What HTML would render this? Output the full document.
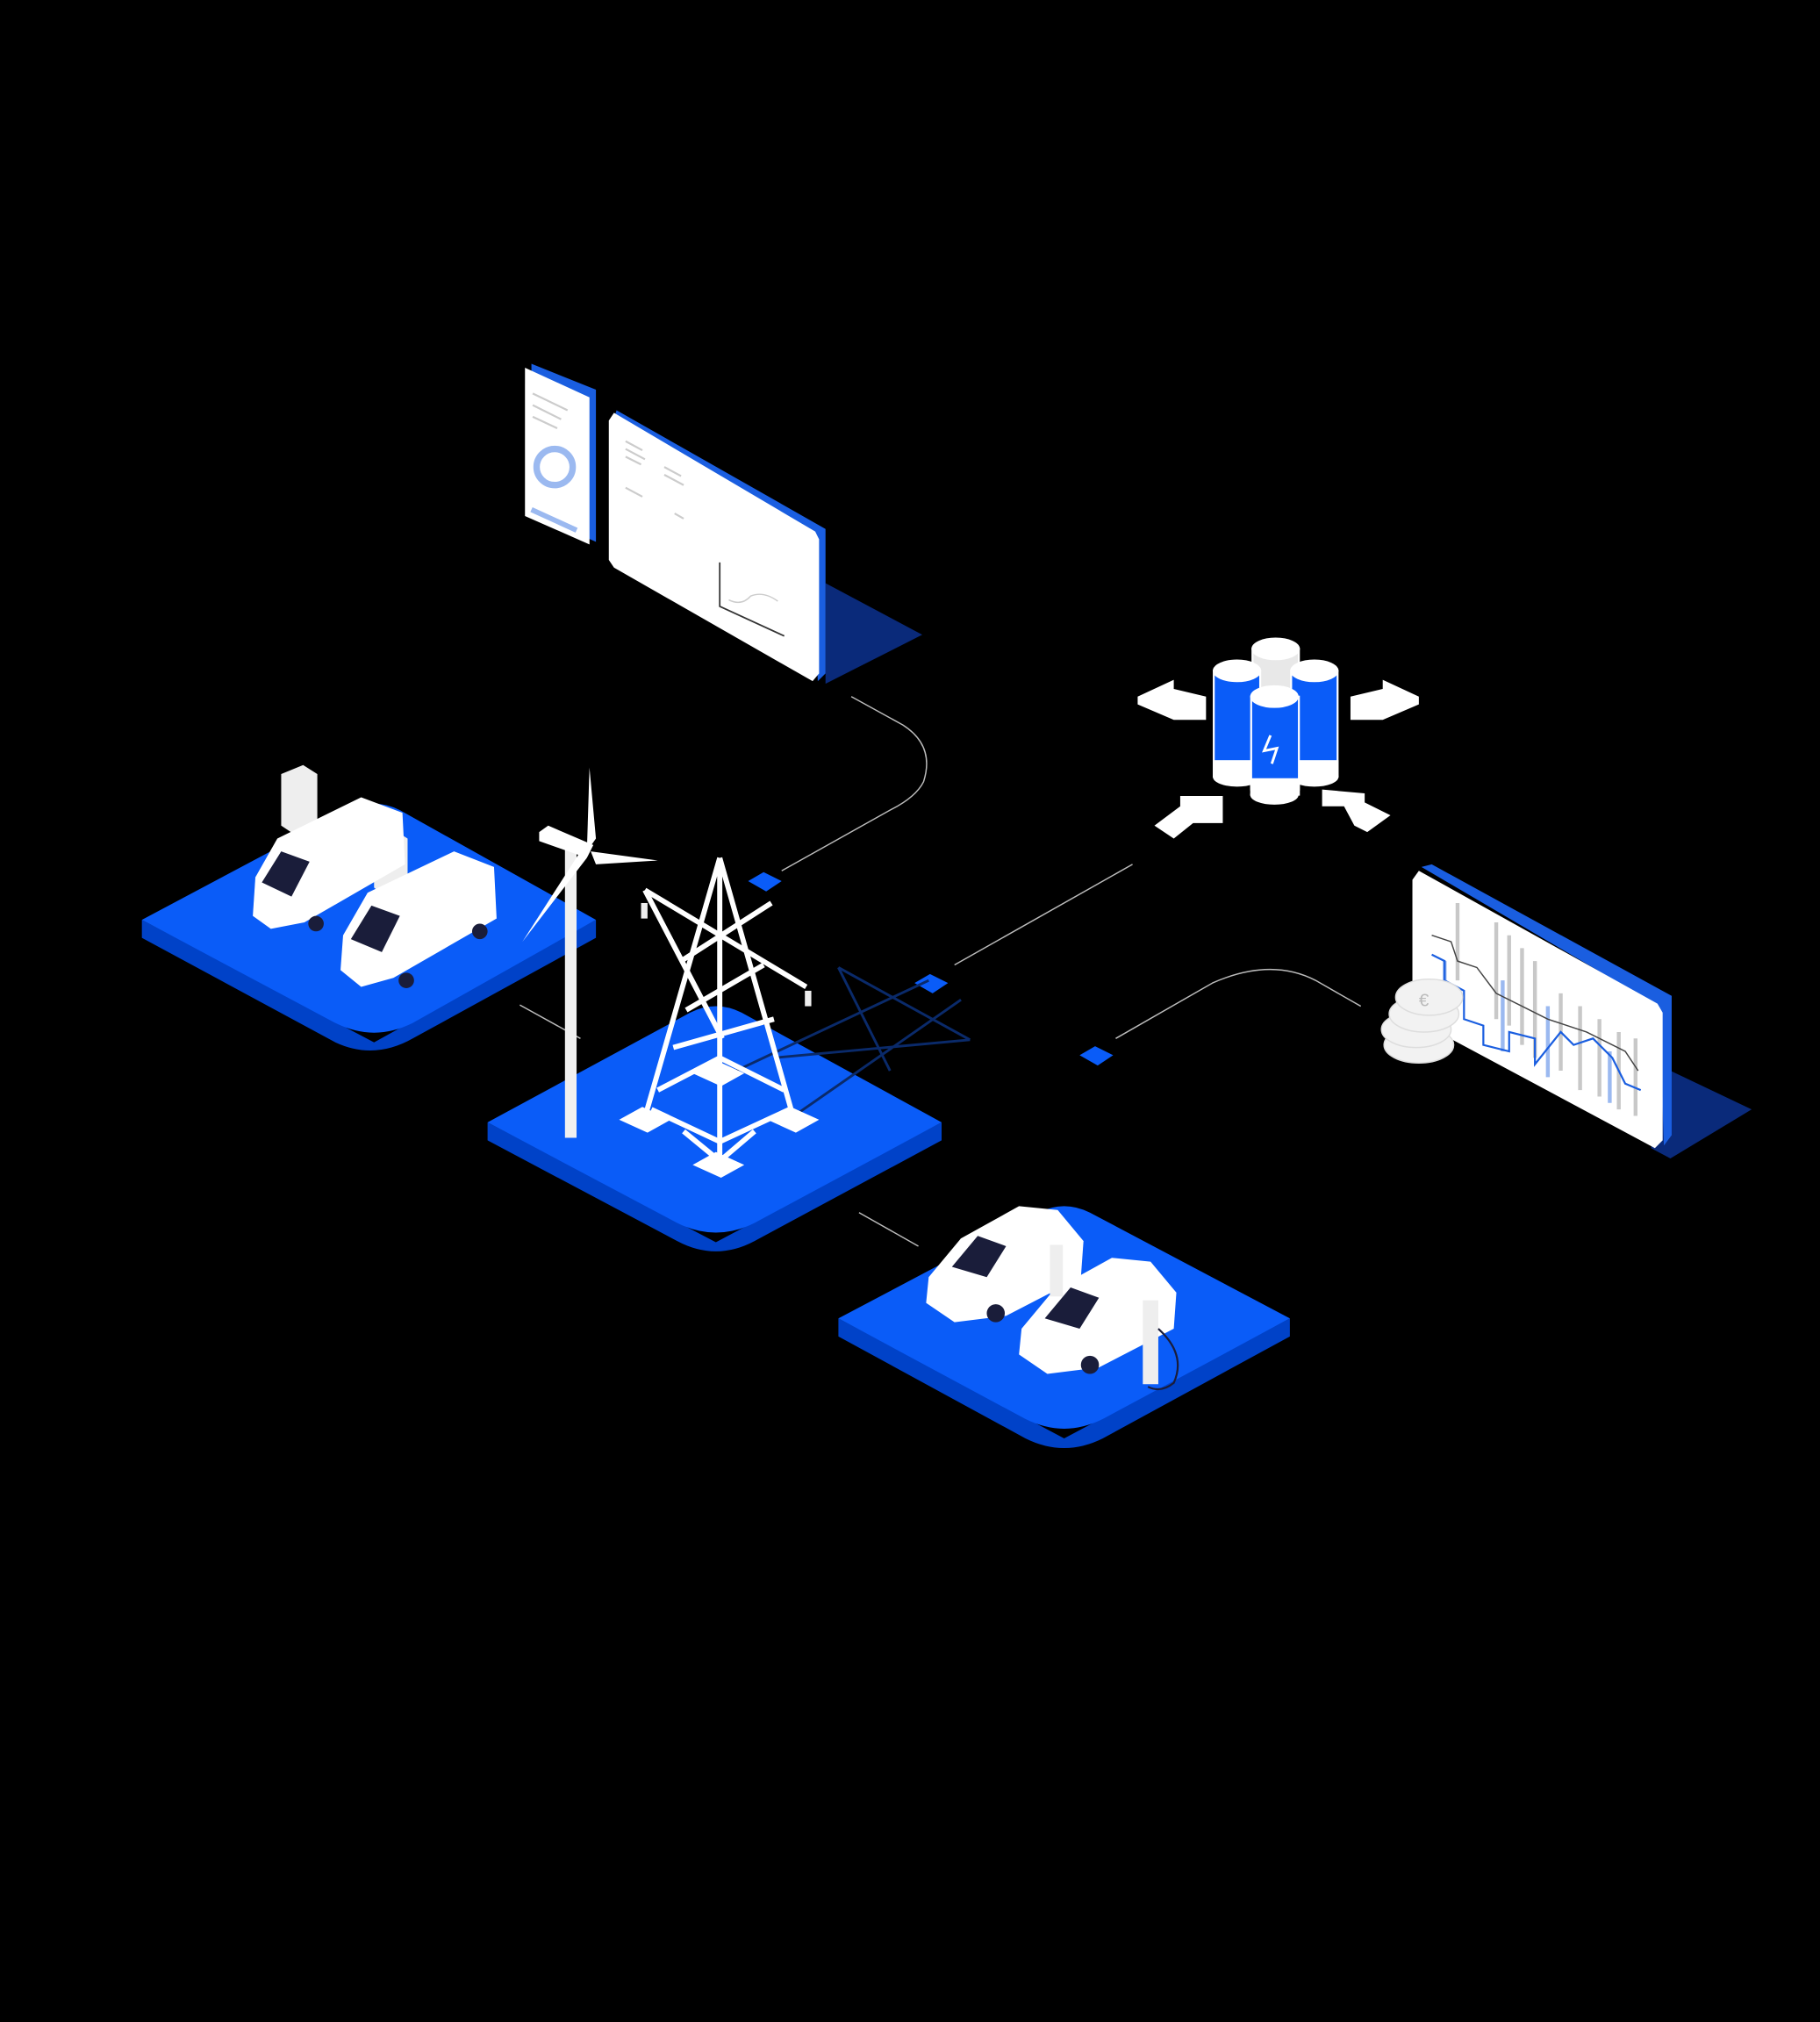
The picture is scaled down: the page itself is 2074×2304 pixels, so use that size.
<!DOCTYPE html>
<html><head><meta charset="utf-8"><style>html,body{margin:0;padding:0;background:#000}svg{display:block}</style></head>
<body>
<svg width="2074" height="2304" viewBox="0 0 1411 1567.4" xmlns="http://www.w3.org/2000/svg">
<rect width="1411" height="1567.4" fill="#000"/>
<g fill="none" stroke="#bbb" stroke-width="1">
<path d="M660,540 L700,562 Q725,578 716,606 Q710,618 690,628 L606,675"/>
<path d="M740,748 L878,670"/>
<path d="M865,805 L940,762 Q985,742 1020,760 L1055,780"/>
<path d="M403,779 L450,805"/>
<path d="M666,940 L712,966"/>
</g>
<!-- platforms -->
<g>
<path d="M110,713 L290,808 L462,713 L462,727 L320,805 Q290,822 260,808 L110,727 Z" fill="#0042c8"/>
<path d="M110,713 L270,628 Q290,618 310,628 L462,713 L320,793 Q290,808 260,793 Z" fill="#0a5cf8"/>
<path d="M378,870 L555,963 L730,870 L730,884 L585,962 Q555,978 525,962 L378,884 Z" fill="#0042c8"/>
<path d="M378,870 L535,785 Q555,775 575,785 L730,870 L585,948 Q555,963 525,948 Z" fill="#0a5cf8"/>
<path d="M650,1022 L825,1115 L1000,1022 L1000,1036 L855,1115 Q825,1130 795,1115 L650,1036 Z" fill="#0042c8"/>
<path d="M650,1022 L805,940 Q825,930 845,940 L1000,1022 L855,1100 Q825,1115 795,1100 Z" fill="#0a5cf8"/>
</g>
<!-- diamonds -->
<g fill="#0a5cf8">
<path d="M580,683 L592,676 L606,683 L594,691 Z"/>
<path d="M709,762 L721,755 L735,762 L723,770 Z"/>
<path d="M837,818 L849,811 L863,818 L851,826 Z"/>
</g>
<!-- phone -->
<path d="M412,282 L462,302 L462,420 L412,398 Z" fill="#1a5ee0"/>
<path d="M407,285 L457,308 L457,422 L407,400 Z" fill="#fff"/>
<circle cx="430" cy="362" r="14" fill="none" stroke="#9bb9f0" stroke-width="5"/>
<path d="M412,395 L447,411" stroke="#9bb9f0" stroke-width="4"/>
<path d="M413,305 L440,318 M413,314 L435,325 M413,323 L432,332" stroke="#ccc" stroke-width="1.5"/>
<!-- monitor -->
<path d="M640,452 L715,492 L640,530 Z" fill="#0a2a7a"/>
<path d="M478,318 L640,410 L640,522 L634,528 L630,418 L474,330 Z" fill="#1a5ee0"/>
<path d="M472,326 L476,320 L632,412 L635,418 L635,522 L630,528 L476,440 L472,434 Z" fill="#fff"/>
<g stroke="#ccc" stroke-width="1.5"><path d="M485,342 L498,349 M485,348 L500,356 M485,354 L497,360 M515,362 L528,369 M515,368 L530,376 M485,378 L498,385 M523,398 L530,402"/></g>
<path d="M558,436 L558,470 L608,493" stroke="#333" fill="none" stroke-width="1.2"/>
<path d="M565,465 Q575,470 582,462 Q592,458 603,466" stroke="#ccc" fill="none"/>
<!-- arrows -->
<g>
<path d="M882,540 L910,527 L910,534 L935,540 L935,558 L910,558 L882,546 Z" fill="#fff"/>
<path d="M1100,540 L1072,527 L1072,534 L1047,540 L1047,558 L1072,558 L1100,546 Z" fill="#fff"/>
<path d="M895,640 L915,625 L915,617 L948,617 L948,638 L925,638 L910,650 Z" fill="#fff"/>
<path d="M1078,632 L1060,645 L1050,640 L1042,625 L1025,625 L1025,612 L1058,615 L1058,622 Z" fill="#fff"/>
</g>
<!-- batteries -->
<g stroke="#fff" stroke-width="1.5">
<rect x="971" y="503" width="36" height="40" fill="#e8e8e8"/><ellipse cx="989" cy="503" rx="18" ry="8" fill="#fff"/>
<rect x="941" y="520" width="36" height="82" fill="#0a5cf8"/><rect x="941" y="590" width="36" height="12" fill="#fff"/><ellipse cx="959" cy="602" rx="18" ry="7" fill="#fff"/><ellipse cx="959" cy="520" rx="18" ry="8" fill="#fff"/>
<rect x="1001" y="520" width="36" height="82" fill="#0a5cf8"/><rect x="1001" y="590" width="36" height="12" fill="#fff"/><ellipse cx="1019" cy="602" rx="18" ry="7" fill="#fff"/><ellipse cx="1019" cy="520" rx="18" ry="8" fill="#fff"/>
<rect x="970" y="540" width="37" height="72" fill="#0a5cf8"/><rect x="970" y="604" width="37" height="12" fill="#fff"/><ellipse cx="988" cy="616" rx="18" ry="7" fill="#fff"/><ellipse cx="988" cy="540" rx="18" ry="8" fill="#fff"/>
</g>
<path d="M985,570 L980,582 L990,580 L986,592" stroke="#fff" fill="none" stroke-width="2"/>
<!-- chart panel -->
<path d="M1295,830 L1358,860 L1295,898 L1280,890 Z" fill="#0a2a7a"/>
<path d="M1102,672 L1110,670 L1296,772 L1296,880 L1290,888 L1286,780 Z" fill="#1a5ee0"/>
<path d="M1095,682 L1100,675 L1285,778 L1289,785 L1289,884 L1283,890 L1100,792 L1095,786 Z" fill="#fff"/>
<g stroke="#c8c8c8" stroke-width="3">
<path d="M1130,700 V760 M1160,715 V790 M1170,725 V795 M1180,735 V810 M1190,745 V820 M1210,770 V830 M1225,780 V845 M1240,790 V850 M1255,800 V860 M1268,805 V865"/>
</g>
<g stroke="#9bb9f0" stroke-width="3"><path d="M1120,745 V790 M1165,760 V815 M1200,780 V835 M1248,815 V855"/></g>
<path d="M1110,740 L1120,745 L1120,760 L1135,768 L1135,790 L1150,795 L1150,810 L1170,815 L1170,800 L1190,805 L1190,825 L1210,800 L1220,810 L1235,805 L1250,820 L1260,840 L1272,845" stroke="#1a5ee0" fill="none" stroke-width="1.5"/>
<path d="M1110,725 L1125,730 L1130,745 L1145,750 L1160,770 L1180,780 L1200,790 L1230,800 L1260,815 L1270,830" stroke="#444" fill="none" stroke-width="1"/>
<g fill="#f2f2f2" stroke="#ddd"><ellipse cx="1100" cy="810" rx="27" ry="14"/><ellipse cx="1098" cy="798" rx="27" ry="14"/><ellipse cx="1104" cy="786" rx="27" ry="14"/><ellipse cx="1108" cy="773" rx="26" ry="14"/></g>
<text x="1100" y="780" font-family="Liberation Sans, sans-serif" font-size="14" fill="#bbb">€</text>
<!-- tower shadow -->
<g stroke="#0a2a6a" stroke-width="2" fill="none"><path d="M620,862 L745,775 M600,820 L752,806 M650,750 L690,830 M650,750 L752,806 M560,835 L720,760"/></g>
<!-- wind turbine -->
<rect x="438" y="650" width="9" height="232" fill="#f0f0f0"/>
<path d="M457,595 L462,650 L455,660 Z" fill="#fff"/>
<path d="M458,660 L510,667 L462,670 Z" fill="#fff"/>
<path d="M455,665 L405,730 L450,660 Z" fill="#fff"/>
<path d="M418,645 L425,640 L460,655 L455,665 L418,652 Z" fill="#fff"/>
<!-- feet -->
<g fill="#fff"><path d="M537,832 L555,822 L577,832 L559,842 Z"/></g>
<!-- pylon -->
<g stroke="#fff" stroke-width="4" fill="none" stroke-linejoin="round">
<path d="M558,665 L500,866 M558,665 L615,866 M558,665 L558,900 M558,665 L558,832"/>
<path d="M500,690 L625,765 M500,690 L560,805 M528,745 L598,700 M532,783 L592,748 M522,812 L600,790 M510,845 L558,820 L608,845 M505,860 L558,885 L612,860 M530,877 L558,900 L585,877"/>
</g>
<rect x="497" y="700" width="5" height="12" fill="#eee"/><rect x="624" y="768" width="5" height="12" fill="#eee"/>
<g fill="#fff"><path d="M480,868 L498,858 L520,868 L502,878 Z"/><path d="M595,868 L613,858 L635,868 L617,878 Z"/><path d="M537,903 L555,893 L577,903 L559,913 Z"/></g>
<!-- vans -->
<g>
<path d="M218,600 L235,593 L246,600 L246,640 L230,648 L218,640 Z" fill="#eee"/>
<path d="M290,650 L305,643 L316,650 L316,688 L300,696 L290,688 Z" fill="#eee"/>
<path d="M198,680 L215,650 L280,618 L312,630 L314,670 L236,715 L210,720 L196,710 Z" fill="#fff"/>
<path d="M203,684 L218,660 L240,668 L226,695 Z" fill="#1a1d3a"/>
<path d="M266,725 L285,692 L352,660 L383,672 L385,712 L305,758 L280,765 L264,752 Z" fill="#fff"/>
<path d="M272,728 L288,702 L310,710 L296,738 Z" fill="#1a1d3a"/>
<circle cx="245" cy="716" r="6" fill="#1a1d3a"/><circle cx="315" cy="760" r="6" fill="#1a1d3a"/><circle cx="372" cy="722" r="6" fill="#1a1d3a"/>
</g>
<!-- cars -->
<g>
<path d="M720,990 L745,960 L790,935 L820,938 L840,962 L838,990 L780,1020 L740,1025 L718,1010 Z" fill="#fff"/>
<path d="M738,982 L758,958 L780,966 L765,990 Z" fill="#1a1d3a"/>
<path d="M792,1030 L817,1000 L862,975 L892,978 L912,1002 L910,1030 L852,1060 L812,1065 L790,1050 Z" fill="#fff"/>
<path d="M810,1022 L830,998 L852,1006 L837,1030 Z" fill="#1a1d3a"/>
<circle cx="772" cy="1018" r="7" fill="#1a1d3a"/><circle cx="845" cy="1058" r="7" fill="#1a1d3a"/>
<rect x="886" y="1008" width="12" height="65" fill="#eee"/>
<rect x="814" y="965" width="10" height="40" fill="#eee"/>
<path d="M898,1030 Q920,1050 910,1072 Q900,1080 890,1075" stroke="#1a1d3a" fill="none" stroke-width="1.5"/>
</g>
</svg>
</body></html>
